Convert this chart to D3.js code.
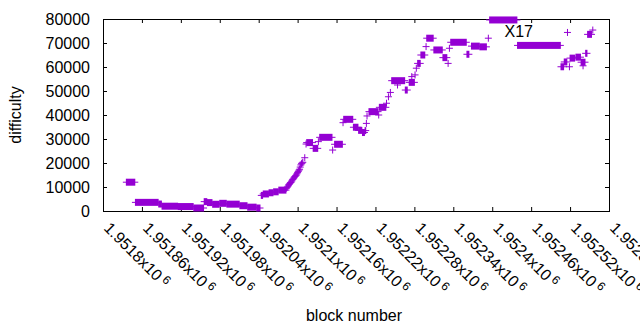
<!DOCTYPE html>
<html>
<head>
<meta charset="utf-8">
<script src="https://cdn.jsdelivr.net/npm/d3@7"></script>
<style>
  body { margin: 0; background: #fff; }
  svg { display: block; font-family: "Liberation Sans", Arial, sans-serif; }
</style>
</head>
<body>
<svg width="640" height="330"></svg>
<script>
// each entry: [first block, last block, difficulty] -- runs of blocks sharing one value
const difficultyRuns = [
  [1951836, 1951849, 12000],
  [1951850, 1951885, 3600],
  [1951886, 1951890, 2900],
  [1951891, 1951915, 2000],
  [1951916, 1951939, 1850],
  [1951940, 1951955, 1250],
  [1951956, 1951960, 3900],
  [1951961, 1951968, 3500],
  [1951969, 1951979, 2800],
  [1951980, 1951990, 3200],
  [1951991, 1952010, 2850],
  [1952011, 1952022, 2200],
  [1952023, 1952036, 1600],
  [1952037, 1952042, 1250],
  [1952044, 1952046, 6500],
  [1952047, 1952055, 7100],
  [1952056, 1952062, 7600],
  [1952063, 1952070, 8000],
  [1952071, 1952082, 8700],
  [1952113, 1952113, 27900],
  [1952114, 1952123, 28500],
  [1952124, 1952131, 26100],
  [1952132, 1952132, 28900],
  [1952134, 1952153, 30700],
  [1952154, 1952154, 25400],
  [1952157, 1952169, 27800],
  [1952170, 1952170, 36800],
  [1952171, 1952185, 38200],
  [1952186, 1952193, 34900],
  [1952194, 1952199, 33600],
  [1952200, 1952203, 32700],
  [1952204, 1952205, 33500],
  [1952206, 1952206, 36500],
  [1952207, 1952207, 39600],
  [1952210, 1952224, 41400],
  [1952225, 1952225, 40000],
  [1952226, 1952236, 43200],
  [1952237, 1952237, 44900],
  [1952240, 1952240, 47600],
  [1952243, 1952243, 49400],
  [1952245, 1952265, 54300],
  [1952254, 1952254, 52500],
  [1952266, 1952269, 50400],
  [1952272, 1952280, 53600],
  [1952276, 1952276, 56000],
  [1952281, 1952281, 56700],
  [1952283, 1952283, 59500],
  [1952285, 1952289, 61500],
  [1952290, 1952296, 65000],
  [1952298, 1952298, 68500],
  [1952299, 1952309, 72000],
  [1952310, 1952323, 67100],
  [1952324, 1952330, 63900],
  [1952332, 1952332, 61500],
  [1952334, 1952334, 67800],
  [1952336, 1952360, 70300],
  [1952361, 1952364, 65300],
  [1952368, 1952380, 68700],
  [1952381, 1952391, 68400],
  [1952394, 1952394, 72000],
  [1952396, 1952438, 79600],
  [1952439, 1952505, 69000],
  [1952506, 1952510, 60100],
  [1952511, 1952515, 62100],
  [1952516, 1952516, 74400],
  [1952519, 1952519, 60100],
  [1952520, 1952527, 63700],
  [1952529, 1952536, 64100],
  [1952537, 1952543, 62000],
  [1952540, 1952540, 60500],
  [1952544, 1952546, 65700],
  [1952547, 1952553, 73600],
  [1952555, 1952555, 75400]
];

// the steep climb, one block at a time
const climbBlocks = [1952083, 1952084, 1952085, 1952086, 1952087, 1952088, 1952089, 1952090,
  1952091, 1952092, 1952093, 1952094, 1952095, 1952096, 1952097, 1952098, 1952099, 1952100,
  1952101, 1952102, 1952103, 1952104, 1952105, 1952106, 1952107, 1952108, 1952111];
const climbDifficulty = [9500, 9900, 10300, 10800, 11100, 11500, 11800, 12000,
  12500, 13000, 13300, 13700, 14100, 14400, 14700, 15000, 15500, 16000,
  16500, 17000, 17400, 18300, 19200, 19700, 20000, 20300, 22200];

const xTickValues = [1951800, 1951860, 1951920, 1951980, 1952040, 1952100, 1952160,
  1952220, 1952280, 1952340, 1952400, 1952460, 1952520, 1952580];
const yTickValues = [0, 10000, 20000, 30000, 40000, 50000, 60000, 70000, 80000];

const xTitle = "block number";
const yTitle = "difficulty";
const noteText = "X17";
const noteAt = [1952419, 72300];

const svg = d3.select('svg');
const color = "#9400d3";
const plotLeft = 103, plotRight = 609, plotTop = 19, plotBottom = 211;

const xScale = d3.scaleLinear().domain([1951800, 1952580]).range([plotLeft, plotRight]);
const yScale = d3.scaleLinear().domain([0, 80000]).range([plotBottom, plotTop]);

// ticks point inward on all four sides (gnuplot style)
const tick = 4;
svg.append('g').attr('transform', `translate(0,${plotBottom})`)
  .call(d3.axisBottom(xScale).tickValues(xTickValues).tickSizeInner(-tick).tickSizeOuter(0).tickFormat(""))
  .call(g => g.select('.domain').remove());
svg.append('g').attr('transform', `translate(0,${plotTop})`)
  .call(d3.axisTop(xScale).tickValues(xTickValues).tickSizeInner(-tick).tickSizeOuter(0).tickFormat(""))
  .call(g => g.select('.domain').remove());
svg.append('g').attr('transform', `translate(${plotRight},0)`)
  .call(d3.axisRight(yScale).tickValues(yTickValues).tickSizeInner(-tick).tickSizeOuter(0).tickFormat(""))
  .call(g => g.select('.domain').remove());
const yAxisG = svg.append('g').attr('transform', `translate(${plotLeft},0)`)
  .call(d3.axisLeft(yScale).tickValues(yTickValues).tickSizeInner(-tick).tickSizeOuter(0).tickPadding(13).tickFormat(d => d))
  .call(g => g.select('.domain').remove());
yAxisG.attr('font-size', 16).attr('font-family', null);
yAxisG.selectAll('text').attr('fill', '#000');
svg.selectAll('.tick line').attr('stroke', '#000');

svg.append('rect')
  .attr('x', plotLeft + 0.5).attr('y', plotTop + 0.5)
  .attr('width', plotRight - plotLeft).attr('height', plotBottom - plotTop)
  .attr('fill', 'none').attr('stroke', '#000').attr('stroke-width', 1);

// rotated x tick labels like 1.9518x10^6 (the last one runs off the page, as in the original)
const fmt = d3.format(".6~f");
const xLabels = svg.append('g').selectAll('text').data(xTickValues).enter()
  .append('text')
  .attr('transform', d => `translate(${xScale(d)},229) rotate(45)`)
  .attr('font-size', 16)
  .attr('fill', '#000');
xLabels.append('tspan').text(d => fmt(d / 1e6) + "x10");
xLabels.append('tspan').attr('font-size', 12).attr('dx', 3).attr('dy', -5).text("6");

// points: a run of "+" marks, one per block, merges into a bar with arms at both ends
const arm = 3.5;
const marks = svg.append('g').attr('fill', color).attr('stroke', color);
const runs = difficultyRuns.concat(climbBlocks.map((b, i) => [b, b, climbDifficulty[i]]));

marks.selectAll('rect').data(runs).enter()
  .append('rect')
  .attr('x', d => xScale(d[0]) - 0.5)
  .attr('width', d => xScale(d[1]) - xScale(d[0]) + 1)
  .attr('y', d => yScale(d[2]) - arm)
  .attr('height', arm * 2)
  .attr('stroke', 'none');

marks.selectAll('line').data(runs).enter()
  .append('line')
  .attr('x1', d => xScale(d[0]) - arm)
  .attr('x2', d => xScale(d[1]) + arm)
  .attr('y1', d => yScale(d[2]))
  .attr('y2', d => yScale(d[2]))
  .attr('stroke-width', 1);

svg.append('text')
  .attr('x', xScale(noteAt[0])).attr('y', yScale(noteAt[1]))
  .attr('font-size', 16).attr('fill', '#000')
  .text(noteText);

svg.append('text')
  .attr('x', 354).attr('y', 321)
  .attr('text-anchor', 'middle')
  .attr('font-size', 16)
  .text(xTitle);

svg.append('text')
  .attr('transform', 'translate(21,115) rotate(-90)')
  .attr('text-anchor', 'middle')
  .attr('font-size', 16)
  .text(yTitle);
</script>
</body>
</html>
